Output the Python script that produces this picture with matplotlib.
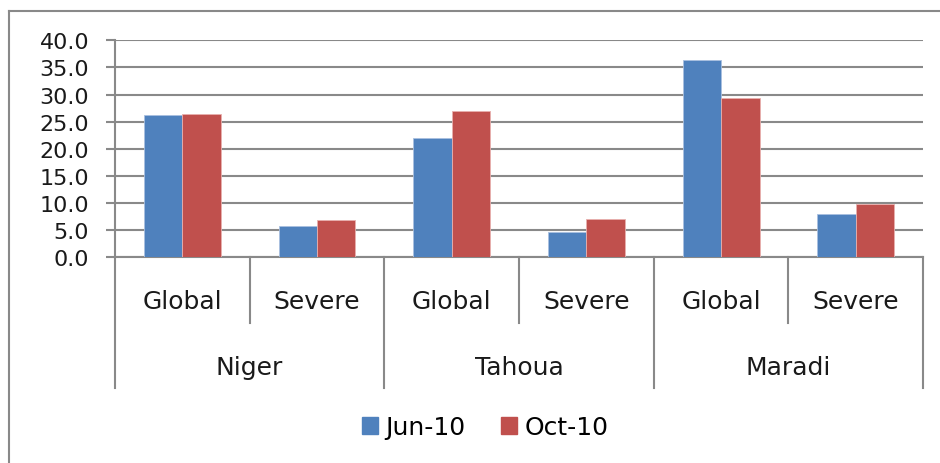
import matplotlib
matplotlib.use("Agg")
import matplotlib.pyplot as plt
import numpy as np
from matplotlib.lines import Line2D
from matplotlib.patches import Patch

regions = ["Niger", "Tahoua", "Maradi"]
levels = ["Global", "Severe"]
series = ["Jun-10", "Oct-10"]
jun_10 = [26.2, 5.8, 22.0, 4.6, 36.3, 8.0]
oct_10 = [26.4, 6.9, 27.0, 7.0, 29.3, 9.9]
y_ticks = [0, 5, 10, 15, 20, 25, 30, 35, 40]

blue = "#4F81BD"
red = "#C0504D"
grid_gray = "#898989"
plt.rcParams["font.family"] = ["DejaVu Sans"]

fig = plt.figure(figsize=(9.4, 4.64), dpi=100)
ax = fig.add_axes([0.1223, 0.4433, 0.982 - 0.1223, 0.911 - 0.4433])

n = len(jun_10)
x = np.arange(n)
w = 1 / 3.5
ax.bar(x - w / 2, jun_10, w, color=blue, edgecolor="#a9c0e0", linewidth=0.6, zorder=3)
ax.bar(x + w / 2, oct_10, w, color=red, edgecolor="#e8b0ae", linewidth=0.6, zorder=3)

ax.set_xlim(-0.5, n - 0.5)
ax.set_ylim(0, 40)
ax.set_yticks(y_ticks)
ax.set_yticklabels(["%.1f" % v for v in y_ticks], fontsize=16, color="#1a1a1a")
ax.yaxis.grid(True, color=grid_gray, linewidth=1.5, zorder=0)
ax.tick_params(axis="y", length=6.5, width=1.5, color=grid_gray, pad=12)
ax.set_xticks([])
for s in ["top", "right"]:
    ax.spines[s].set_visible(False)
for s in ["left", "bottom"]:
    ax.spines[s].set_color(grid_gray)
    ax.spines[s].set_linewidth(1.5)

# multi-level category axis
tr = ax.get_xaxis_transform()
for i in range(n + 1):
    b = i - 0.5
    low = -0.602 if i % 2 == 0 else -0.303
    ax.plot([b, b], [0, low], color=grid_gray, lw=1.5, transform=tr, clip_on=False)
for i in range(n):
    ax.text(i, -0.2, levels[i % 2], transform=tr, ha="center", va="center",
            fontsize=18, color="#1a1a1a")
for j, r in enumerate(regions):
    ax.text(2 * j + 0.5, -0.505, r, transform=tr, ha="center", va="center",
            fontsize=18, color="#1a1a1a")

handles = [Patch(color=blue), Patch(color=red)]
fig.legend(handles, series, loc="center", bbox_to_anchor=(0.516, 0.077),
           ncol=2, frameon=False, fontsize=18, handlelength=0.65, handleheight=0.7,
           handletextpad=0.3, columnspacing=1.4)

# chart border (left and top)
fig.add_artist(Line2D([0.0096, 0.0096], [0, 0.974], color=grid_gray, lw=1.5))
fig.add_artist(Line2D([0.0096, 1], [0.974, 0.974], color=grid_gray, lw=1.5))

fig.savefig("out.png", dpi=100)
